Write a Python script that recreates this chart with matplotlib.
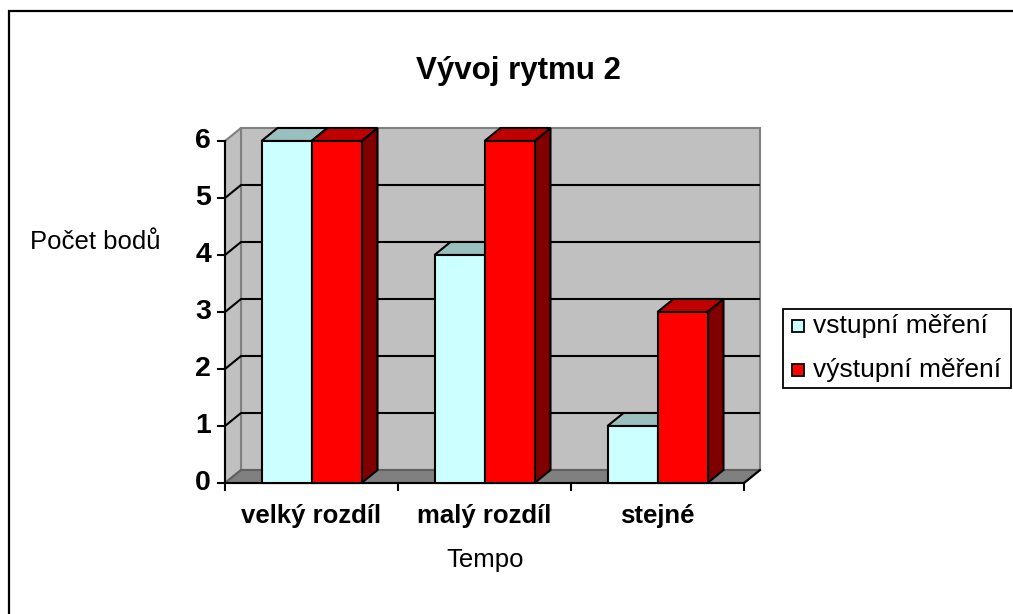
import numpy as np
import matplotlib.pyplot as plt
from matplotlib.patches import Polygon, Rectangle

plt.rcParams['font.family'] = ['Liberation Sans', 'DejaVu Sans']

# data
categories = ["velký rozdíl", "malý rozdíl", "stejné"]
vstupni = [6, 4, 1]
vystupni = [6, 6, 3]
series_names = ["vstupní měření", "výstupní měření"]

W, H = 1013, 614
fig = plt.figure(figsize=(W / 100, H / 100), dpi=100)

def fx(px):
    return px / W

def fy(py):
    return (H - py) / H

# outer chart border (cut off on right and bottom like the original)
fig.patches.append(Rectangle((fx(9), fy(640)), fx(1040) - fx(9), fy(11) - fy(640),
                             transform=fig.transFigure, fill=False,
                             edgecolor='black', linewidth=1.6))

ax = fig.add_axes([fx(225), fy(483), fx(744) - fx(225), fy(141) - fy(483)])
ax.set_xlim(0, 3)
ax.set_ylim(0, 6)
ax.axis('off')

DX = 16 / 173.0   # depth offset in category units
DY = 13 / 57.0    # depth offset in value units
ymax = 6
n = len(categories)
lw = 1.5

def poly(pts, fc, ec='black', z=1, lw_=lw):
    ax.add_patch(Polygon(pts, closed=True, facecolor=fc, edgecolor=ec,
                         linewidth=lw_, zorder=z, clip_on=False, joinstyle='miter'))

# walls and floor
poly([(DX, DY), (DX, ymax + DY), (n + DX, ymax + DY), (n + DX, DY)], '#C0C0C0', '#808080', 1)
poly([(0, 0), (0, ymax), (DX, ymax + DY), (DX, DY)], '#C0C0C0', '#808080', 1)
poly([(0, 0), (n, 0), (n + DX, DY), (DX, DY)], '#808080', '#606060', 1)

# gridlines on back wall + left wall
for v in range(1, ymax):
    ax.plot([0, DX, n + DX], [v, v + DY, v + DY], color='black', lw=lw, zorder=2,
            clip_on=False, solid_capstyle='butt')

# axes lines and ticks
ax.plot([0, 0], [0, ymax], color='black', lw=lw, zorder=3, clip_on=False)
ax.plot([0, n], [0, 0], color='black', lw=lw, zorder=3, clip_on=False)
ax.plot([n, n + DX], [0, DY], color='black', lw=lw, zorder=3, clip_on=False)
tick_x = 7 / 173.0
tick_y = 7 / 57.0
for v in range(0, ymax + 1):
    ax.plot([-tick_x, 0], [v, v], color='black', lw=lw, zorder=3, clip_on=False)
    ax.text(-14 / 173.0, v, str(v), ha='right', va='center', fontsize=20.5,
            fontweight='bold')
for i in range(n + 1):
    ax.plot([i, i], [0, -tick_y], color='black', lw=lw, zorder=3, clip_on=False)

# bars
bw = 50 / 173.0
front_cols = ['#CCFFFF', '#FF0000']
top_cols = ['#99BFBF', '#C00000']
side_cols = ['#668080', '#800000']
z = 10
for i in range(n):
    for s, vals in enumerate([vstupni, vystupni]):
        x0 = i + 0.5 - bw + s * bw
        x1 = x0 + bw
        h = vals[i]
        poly([(x1, 0), (x1 + DX, DY), (x1 + DX, h + DY), (x1, h)], side_cols[s], z=z)
        poly([(x0, h), (x1, h), (x1 + DX, h + DY), (x0 + DX, h + DY)], top_cols[s], z=z)
        ax.bar(x0, h, width=bw, align='edge', color=front_cols[s],
               edgecolor='black', linewidth=lw, zorder=z, clip_on=False)
        z += 1

for i, c in enumerate(categories):
    ax.text(i + 0.5, -0.36, c, ha='center', va='top', fontsize=18.5,
            fontweight='bold')

# titles
fig.text(fx(518), fy(79), "Vývoj rytmu 2", ha='center', va='baseline',
         fontsize=22.5, fontweight='bold')
fig.text(fx(30), fy(242), "Počet bodů", ha='left', va='center', fontsize=18.5)
fig.text(fx(485), fy(560), "Tempo", ha='center', va='center', fontsize=18.5)

# legend (drawn by hand to sit like the original box)
fig.patches.append(Rectangle((fx(783), fy(388)), fx(1011) - fx(783), fy(309) - fy(388),
                             transform=fig.transFigure, facecolor='white',
                             edgecolor='black', linewidth=1.3))
for k, (name, yc) in enumerate(zip(series_names, [326, 370])):
    fig.patches.append(Rectangle((fx(792), fy(yc + 6)), fx(804) - fx(792), fy(yc - 6) - fy(yc + 6),
                                 transform=fig.transFigure, facecolor=front_cols[k],
                                 edgecolor='black', linewidth=1.3))
    fig.text(fx(813), fy(yc), name, ha='left', va='center', fontsize=19)

fig.savefig('out.png', dpi=100)
